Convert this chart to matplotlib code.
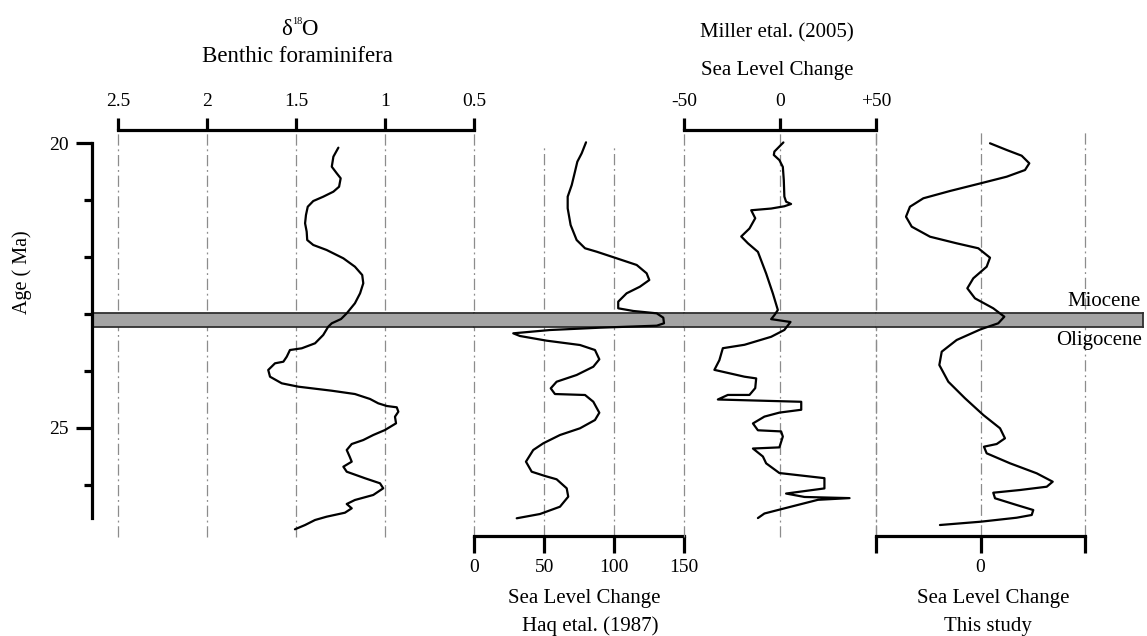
import matplotlib
matplotlib.use('Agg')
import matplotlib.pyplot as plt
from matplotlib.patches import Rectangle

plt.rcParams['font.family'] = ['Liberation Serif', 'DejaVu Serif']

# ---------------- data ----------------
d18o_age = [20.082, 20.240, 20.416, 20.532, 20.619, 20.767, 20.854, 20.942, 21.018, 21.118,
            21.263, 21.409, 21.556, 21.702, 21.789, 21.877, 22.023, 22.170, 22.316, 22.461,
            22.637, 22.812, 22.988, 23.088, 23.163, 23.223, 23.368, 23.514, 23.602, 23.632,
            23.749, 23.837, 23.865, 23.982, 24.100, 24.216, 24.275, 24.346, 24.404, 24.491,
            24.567, 24.614, 24.637, 24.714, 24.802, 24.918, 25.035, 25.123, 25.211, 25.281,
            25.386, 25.514, 25.591, 25.679, 25.767, 25.882, 25.970, 26.058, 26.175, 26.263,
            26.333, 26.409, 26.486, 26.556, 26.614, 26.702, 26.777]
d18o_val = [1.262, 1.290, 1.299, 1.271, 1.249, 1.258, 1.290, 1.347, 1.403, 1.434,
            1.444, 1.449, 1.440, 1.437, 1.403, 1.328, 1.234, 1.169, 1.128, 1.122,
            1.140, 1.169, 1.215, 1.247, 1.299, 1.319, 1.347, 1.393, 1.468, 1.534,
            1.552, 1.571, 1.618, 1.656, 1.646, 1.580, 1.487, 1.299, 1.169, 1.084,
            1.038, 0.990, 0.934, 0.925, 0.944, 0.938, 1.000, 1.066, 1.122, 1.187,
            1.215, 1.197, 1.187, 1.234, 1.215, 1.112, 1.028, 1.010, 1.066, 1.169,
            1.215, 1.187, 1.225, 1.328, 1.393, 1.449, 1.506]

haq_age = [19.988, 20.181, 20.328, 20.504, 20.737, 20.942, 21.146, 21.439, 21.702, 21.847,
           21.907, 22.023, 22.140, 22.286, 22.404, 22.521, 22.637, 22.784, 22.900, 22.947,
           22.988, 23.065, 23.163, 23.205, 23.240, 23.281, 23.339, 23.386, 23.468, 23.544,
           23.632, 23.795, 23.925, 24.070, 24.188, 24.304, 24.404, 24.421, 24.539, 24.732,
           24.860, 25.005, 25.123, 25.268, 25.386, 25.591, 25.767, 25.842, 25.900, 26.058,
           26.205, 26.381, 26.509, 26.584]
haq_val = [79.8, 76.7, 73.6, 71.9, 69.6, 66.7, 66.7, 68.8, 73.1, 79.1,
           87.4, 101.7, 116.0, 123.1, 125.0, 118.3, 108.8, 102.8, 102.8, 113.6,
           130.3, 135.0, 135.5, 130.3, 89.8, 54.1, 27.8, 32.6, 51.7, 75.5,
           86.2, 89.3, 85.0, 73.1, 58.8, 54.6, 57.6, 79.1, 85.0, 89.3,
           86.2, 75.5, 61.2, 49.3, 42.1, 36.9, 41.0, 50.5, 58.8, 66.0,
           67.1, 61.2, 46.9, 30.3]

miller_age = [19.99, 20.15, 20.21, 20.30, 20.42, 20.65, 20.94, 21.03, 21.07, 21.11, 21.15, 21.18,
              21.32, 21.50, 21.64, 21.76, 21.91, 22.29, 22.64, 22.93, 23.02, 23.09, 23.14, 23.28,
              23.40, 23.54, 23.60, 23.81, 23.98, 24.10, 24.13, 24.30, 24.42, 24.42, 24.50, 24.54,
              24.68, 24.73, 24.80, 24.92, 25.04, 25.06, 25.15, 25.34, 25.36, 25.50, 25.62, 25.79,
              25.88, 26.06, 26.15, 26.21, 26.23, 26.26, 26.41, 26.50, 26.58]
miller_val = [1.7, -3.0, -3.3, -0.4, 1.4, 1.9, 2.2, 3.1, 5.7, 2.2, -4.7, -15.1,
              -13.0, -16.0, -20.3, -16.8, -11.6, -7.3, -3.8, -1.2, -3.0, -4.7, 5.4, 2.2,
              -4.7, -18.6, -29.9, -31.7, -34.3, -18.6, -12.5, -13.0, -16.0, -27.3, -32.5, 11.0,
              11.0, -0.4, -8.2, -14.2, -11.6, 0.5, 1.4, -0.4, -14.2, -9.0, -7.3, -0.4,
              23.1, 23.1, 3.1, 12.7, 36.2, 19.7, 2.2, -8.2, -11.6]

study_age = [20.005, 20.123, 20.223, 20.356, 20.474, 20.591, 20.707, 20.842, 20.970, 21.118,
             21.293, 21.468, 21.644, 21.760, 21.847, 22.012, 22.170, 22.374, 22.549, 22.725,
             22.900, 23.047, 23.163, 23.268, 23.456, 23.661, 23.895, 24.188, 24.479, 24.772,
             25.005, 25.181, 25.281, 25.328, 25.444, 25.619, 25.795, 25.942, 26.030, 26.088,
             26.135, 26.233, 26.351, 26.439, 26.526, 26.574, 26.644, 26.702]
study_val = [0.091, 0.251, 0.394, 0.467, 0.426, 0.251, 0.002, -0.292, -0.547, -0.675,
             -0.713, -0.658, -0.483, -0.228, -0.021, 0.091, 0.059, -0.069, -0.126, -0.053,
             0.122, 0.228, 0.170, 0.002, -0.228, -0.371, -0.394, -0.308, -0.148, 0.027,
             0.187, 0.234, 0.155, 0.033, 0.059, 0.282, 0.538, 0.691, 0.634, 0.378,
             0.122, 0.139, 0.346, 0.505, 0.490, 0.346, 0.002, -0.388]

d18o_ticks = [2.5, 2, 1.5, 1, 0.5]
d18o_labels = ['2.5', '2', '1.5', '1', '0.5']
haq_ticks = [0, 50, 100, 150]
haq_labels = ['0', '50', '100', '150']
miller_ticks = [-50, 0, 50]
miller_labels = ['-50', '0', '+50']
study_ticks = [-1, 0, 1]
study_labels = ['', '0', '']
age_major = [20, 25]
age_major_labels = ['20', '25']
age_minor = [21, 22, 23, 24, 26]
boundary = (22.98, 23.22)

# ---------------- layout ----------------
W, H = 1147, 636
fig = plt.figure(figsize=(W / 100, H / 100), dpi=100)


def fx(px):
    return px / W


def fy(py):
    return 1 - py / H


Y_TOP, Y_BOT = 130.0, 535.5


def age_at(py):
    return 20 + (py - 143) / 57.0


YLIM = (age_at(Y_BOT), age_at(Y_TOP))
GRID_KW = dict(color='#8c8c8c', lw=0.9, ls=(0, (9, 3, 1.5, 3)), zorder=1, clip_on=False)
LINE_KW = dict(color='black', lw=1.6, zorder=4, solid_joinstyle='round', solid_capstyle='round')
SPW = 2.3


def make_ax(x0, x1, xlim):
    ax = fig.add_axes([fx(x0), fy(Y_BOT), (x1 - x0) / W, (Y_BOT - Y_TOP) / H])
    ax.set_xlim(*xlim)
    ax.set_ylim(*YLIM)
    ax.patch.set_visible(False)
    for s in ax.spines.values():
        s.set_visible(False)
        s.set_linewidth(SPW)
    ax.set_yticks([])
    return ax


def band(ax, x0, x1):
    ax.add_patch(Rectangle((x0, boundary[0]), x1 - x0, boundary[1] - boundary[0],
                           facecolor='#a4a4a4', edgecolor='none', zorder=2))
    ax.plot([x0, x1], [boundary[0]] * 2, color='#303030', lw=1.3, zorder=2.5, clip_on=False)
    ax.plot([x0, x1], [boundary[1]] * 2, color='#303030', lw=1.3, zorder=2.5, clip_on=False)


# δ18O panel (x 92..474)
ax1 = make_ax(92, 474, (2.5 + 26 / 178.0, 0.5))
ax1.spines['top'].set_visible(True)
ax1.spines['top'].set_bounds(2.5, 0.5)
ax1.spines['left'].set_visible(True)
ax1.spines['left'].set_bounds(20, age_at(518))
ax1.xaxis.set_ticks_position('top')
ax1.set_xticks(d18o_ticks)
ax1.set_xticklabels(d18o_labels)
ax1.tick_params(axis='x', direction='out', length=8.6, width=SPW, pad=6, labelsize=14)
ax1.set_yticks(age_major)
ax1.set_yticklabels(age_major_labels)
ax1.set_yticks(age_minor, minor=True)
ax1.tick_params(axis='y', which='major', direction='out', length=11.5, width=SPW, pad=5, labelsize=14)
ax1.tick_params(axis='y', which='minor', direction='out', length=5.8, width=SPW)
for v in d18o_ticks:
    ax1.plot([v, v], [YLIM[0] + 0.03, YLIM[1]], **GRID_KW)
band(ax1, 2.5 + 26 / 178.0, 0.5)
ax1.plot(d18o_val, d18o_age, **LINE_KW)

# Haq panel (x 474..684)
ax2 = make_ax(474.3, 684.3, (0, 150))
ax2.spines['bottom'].set_visible(True)
ax2.xaxis.set_ticks_position('bottom')
ax2.set_xticks(haq_ticks)
ax2.set_xticklabels(haq_labels)
ax2.tick_params(axis='x', direction='out', length=12, width=SPW, pad=5, labelsize=14)
for v in [50, 100]:
    ax2.plot([v, v], [YLIM[0], age_at(145)], **GRID_KW)
band(ax2, 0, 150)
ax2.plot(haq_val, haq_age, **LINE_KW)

# Miller panel (x 684..876)
ax3 = make_ax(684.3, 876, (-50, 50))
ax3.spines['top'].set_visible(True)
ax3.xaxis.set_ticks_position('top')
ax3.set_xticks(miller_ticks)
ax3.set_xticklabels(miller_labels)
ax3.tick_params(axis='x', direction='out', length=8.6, width=SPW, pad=6, labelsize=14)
for v in miller_ticks:
    ax3.plot([v, v], [age_at(537), YLIM[1]], **GRID_KW)
band(ax3, -50, 50)
ax3.plot(miller_val, miller_age, **LINE_KW)

# This study panel (x 876..1143)
sx1 = 1 + (1143 - 1085) / 104.5
ax4 = make_ax(876, 1146, (-1, 1 + (1146 - 1085) / 104.5))
ax4.spines['bottom'].set_visible(True)
ax4.spines['bottom'].set_bounds(-1, 1)
ax4.xaxis.set_ticks_position('bottom')
ax4.set_xticks(study_ticks)
ax4.set_xticklabels(study_labels)
ax4.tick_params(axis='x', direction='out', length=12, width=SPW, pad=5, labelsize=14)
for v in study_ticks:
    ax4.plot([v, v], list(YLIM), **GRID_KW)
band(ax4, -1, sx1)
ax4.plot([sx1, sx1], list(boundary), color='#303030', lw=1.3, zorder=2.5)
ax4.plot(study_val, study_age, **LINE_KW)

# ---------------- texts ----------------
fig.text(fx(292.5), fy(35), 'δ', ha='right', va='baseline', fontsize=16.5)
fig.text(fx(301.5), fy(35), 'O', ha='left', va='baseline', fontsize=16.5)
fig.text(fx(297), fy(23.5), '18', ha='center', va='baseline', fontsize=7.5)
fig.text(fx(297), fy(56), 'Benthic foraminifera', ha='center', va='center', fontsize=16.5)
fig.text(fx(777), fy(33), 'Miller etal. (2005)', ha='center', va='center', fontsize=15)
fig.text(fx(777), fy(71), 'Sea Level Change', ha='center', va='center', fontsize=15)
fig.text(fx(584), fy(598), 'Sea Level Change', ha='center', va='center', fontsize=15)
fig.text(fx(590), fy(626), 'Haq etal. (1987)', ha='center', va='center', fontsize=15)
fig.text(fx(993), fy(598), 'Sea Level Change', ha='center', va='center', fontsize=15)
fig.text(fx(988), fy(626), 'This study', ha='center', va='center', fontsize=15)
fig.text(fx(1141), fy(302), 'Miocene', ha='right', va='center', fontsize=15)
fig.text(fx(1142), fy(340), 'Oligocene', ha='right', va='center', fontsize=15)
fig.text(fx(22), fy(272), 'Age ( Ma)', rotation=90, ha='center', va='center', fontsize=14.5)

fig.savefig('out.png', dpi=100)
